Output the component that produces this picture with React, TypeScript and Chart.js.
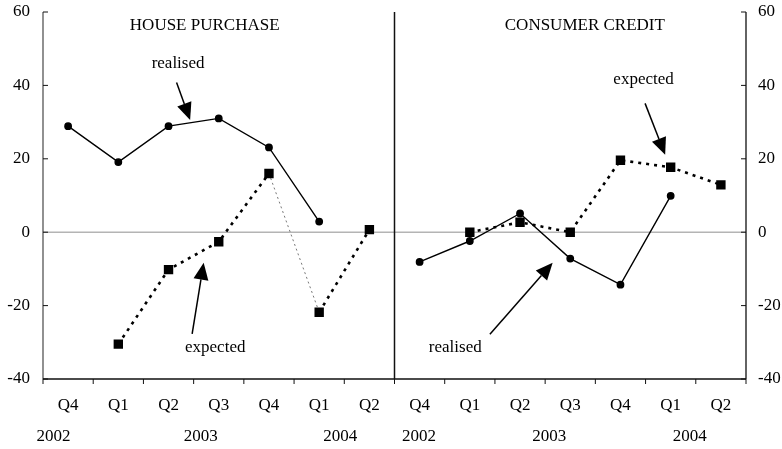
import { useEffect, useRef } from "react"
import { Chart, registerables } from "chart.js"

Chart.register(...registerables)

// categories: two panels of 7 quarters each
const quarters = ["Q4", "Q1", "Q2", "Q3", "Q4", "Q1", "Q2", "Q4", "Q1", "Q2", "Q3", "Q4", "Q1", "Q2"]
const years = ["2002", "2003", "2004", "2002", "2003", "2004"]
const yearAt = [-0.29, 2.64, 5.42, 6.99, 9.58, 12.38]

const houseRealised = [28.9, 19.1, 28.9, 31.0, 23.1, 2.9, null]
const houseExpected = [null, -30.5, -10.2, -2.6, 16.0, -21.8, 0.7]
const creditRealised = [-8.1, -2.4, 5.1, -7.2, -14.3, 9.9, null]
const creditExpected = [null, 0, 2.7, 0, 19.6, 17.7, 12.9]

const yTicks = [60, 40, 20, 0, -20, -40]

const panelTitles = ["HOUSE PURCHASE", "CONSUMER CREDIT"]
const titleAt = [[2.72, 56.3], [10.29, 56.3]]

// annotation labels and arrows, in [category index, value]
const noteTexts = ["realised", "expected", "expected", "realised"]
const noteAt = [[2.19, 45.9], [2.93, -31.5], [11.46, 41.5], [7.71, -31.5]]
const arrowFrom = [[2.16, 40.8], [2.47, -27.7], [11.49, 35.1], [8.4, -27.8]]
const arrowTo = [[2.43, 30.6], [2.7, -8.3], [11.89, 21.1], [9.65, -8.3]]

const FONT = "17px 'Liberation Serif', 'Times New Roman', serif"

const framePlugin = {
  id: "frame",
  beforeDatasetsDraw(chart: any) {
    const { ctx, chartArea: a, scales } = chart
    const x = scales.x
    const y = scales.y
    ctx.save()
    // zero line
    ctx.strokeStyle = "#b4b4b4"
    ctx.lineWidth = 1.5
    ctx.beginPath()
    ctx.moveTo(a.left, y.getPixelForValue(0))
    ctx.lineTo(a.right, y.getPixelForValue(0))
    ctx.stroke()

    // axes
    ctx.lineWidth = 1.3
    ctx.strokeStyle = "#555"
    ctx.beginPath()
    ctx.moveTo(a.left, a.top)
    ctx.lineTo(a.left, a.bottom)
    ctx.stroke()
    ctx.strokeStyle = "#111"
    ctx.beginPath()
    ctx.moveTo(a.right, a.top)
    ctx.lineTo(a.right, a.bottom)
    ctx.moveTo(a.left, a.bottom)
    ctx.lineTo(a.right, a.bottom)
    ctx.stroke()

    // divider between panels
    const mid = (x.getPixelForValue(6) + x.getPixelForValue(7)) / 2
    ctx.lineWidth = 1.5
    ctx.beginPath()
    ctx.moveTo(mid, a.top)
    ctx.lineTo(mid, a.bottom)
    ctx.stroke()

    // tick marks
    ctx.lineWidth = 1
    ctx.beginPath()
    yTicks.forEach((v) => {
      const py = y.getPixelForValue(v)
      ctx.moveTo(a.left, py)
      ctx.lineTo(a.left + 5, py)
      ctx.moveTo(a.right, py)
      ctx.lineTo(a.right - 5, py)
    })
    const step = x.getPixelForValue(1) - x.getPixelForValue(0)
    for (let i = 0; i <= quarters.length; i++) {
      const px = x.getPixelForValue(0) - step / 2 + i * step
      ctx.moveTo(px, a.bottom)
      ctx.lineTo(px, a.bottom + 5)
    }
    ctx.stroke()
    ctx.restore()
  },
  afterDatasetsDraw(chart: any) {
    const { ctx, chartArea: a, scales } = chart
    const x = scales.x
    const y = scales.y
    const px = (i: number) => {
      const step = x.getPixelForValue(1) - x.getPixelForValue(0)
      return x.getPixelForValue(0) + i * step
    }
    ctx.save()
    ctx.fillStyle = "#000"
    ctx.font = FONT
    ctx.textAlign = "center"
    ctx.textBaseline = "middle"

    panelTitles.forEach((t, i) => {
      ctx.fillText(t, px(titleAt[i][0]), y.getPixelForValue(titleAt[i][1]))
    })
    noteTexts.forEach((t, i) => {
      ctx.fillText(t, px(noteAt[i][0]), y.getPixelForValue(noteAt[i][1]))
    })
    years.forEach((t, i) => {
      ctx.fillText(t, px(yearAt[i]), a.bottom + 58)
    })

    // arrows
    ctx.strokeStyle = "#000"
    ctx.lineWidth = 1.5
    arrowFrom.forEach((f, i) => {
      const x0 = px(f[0])
      const y0 = y.getPixelForValue(f[1])
      const x1 = px(arrowTo[i][0])
      const y1 = y.getPixelForValue(arrowTo[i][1])
      const ang = Math.atan2(y1 - y0, x1 - x0)
      const len = 17
      const half = 7.5
      const bx = x1 - len * Math.cos(ang)
      const by = y1 - len * Math.sin(ang)
      ctx.beginPath()
      ctx.moveTo(x0, y0)
      ctx.lineTo(bx, by)
      ctx.stroke()
      ctx.beginPath()
      ctx.moveTo(x1, y1)
      ctx.lineTo(bx + half * Math.sin(ang), by - half * Math.cos(ang))
      ctx.lineTo(bx - half * Math.sin(ang), by + half * Math.cos(ang))
      ctx.closePath()
      ctx.fill()
    })
    ctx.restore()
  },
}

export default function App() {
  const chartRef = useRef<HTMLCanvasElement>(null)
  const chartInstance = useRef<Chart | null>(null)

  useEffect(() => {
    if (!chartRef.current) return
    document.body.style.margin = "0"

    if (chartInstance.current) {
      chartInstance.current.destroy()
    }

    const ctx = chartRef.current.getContext("2d")
    if (!ctx) return

    const tickFont = { family: "'Liberation Serif', 'Times New Roman', serif", size: 17 }

    chartInstance.current = new Chart(ctx, {
      type: "line",
      data: {
        labels: quarters,
        datasets: [
          {
            label: "realised",
            data: [...houseRealised, ...creditRealised],
            borderColor: "#000",
            backgroundColor: "#000",
            borderWidth: 1.4,
            pointStyle: "circle",
            pointRadius: 3.2,
            spanGaps: false,
          },
          {
            label: "expected",
            data: [...houseExpected, ...creditExpected],
            borderColor: "#000",
            backgroundColor: "#000",
            borderWidth: 2.6,
            borderDash: [3, 5],
            pointStyle: "rect",
            pointRadius: 4.8,
            spanGaps: false,
            segment: {
              borderWidth: (c: any) => (c.p0DataIndex === 4 ? 0.8 : undefined),
              borderDash: (c: any) => (c.p0DataIndex === 4 ? [2, 3] : undefined),
              borderColor: (c: any) => (c.p0DataIndex === 4 ? "#555" : undefined),
            },
          },
        ],
      },
      options: {
        responsive: false,
        animation: false,
        layout: { padding: 0 },
        plugins: {
          legend: { display: false },
          tooltip: { enabled: false },
        },
        scales: {
          x: {
            type: "category",
            offset: true,
            grid: { display: false, tickLength: 0 },
            border: { display: false },
            ticks: {
              font: tickFont,
              color: "#000",
              padding: 16,
              maxRotation: 0,
              autoSkip: false,
            },
            afterFit: (s: any) => {
              s.height = 70
            },
          },
          y: {
            position: "left",
            min: -40,
            max: 60,
            grid: { display: false, tickLength: 0 },
            border: { display: false },
            ticks: { stepSize: 20, font: tickFont, color: "#000", padding: 13 },
            afterFit: (s: any) => {
              s.width = 43
              s.paddingTop = 12
              s.paddingBottom = 0
            },
          },
          y2: {
            position: "right",
            min: -40,
            max: 60,
            grid: { display: false, tickLength: 0 },
            border: { display: false },
            ticks: { stepSize: 20, font: tickFont, color: "#000", padding: 12 },
            afterFit: (s: any) => {
              s.width = 36
              s.paddingTop = 12
              s.paddingBottom = 0
            },
          },
        },
      },
      plugins: [framePlugin],
    })

    return () => {
      if (chartInstance.current) {
        chartInstance.current.destroy()
        chartInstance.current = null
      }
    }
  }, [])

  return (
    <div style={{ width: 782, height: 449 }}>
      <canvas ref={chartRef} width={782} height={449}></canvas>
    </div>
  )
}
